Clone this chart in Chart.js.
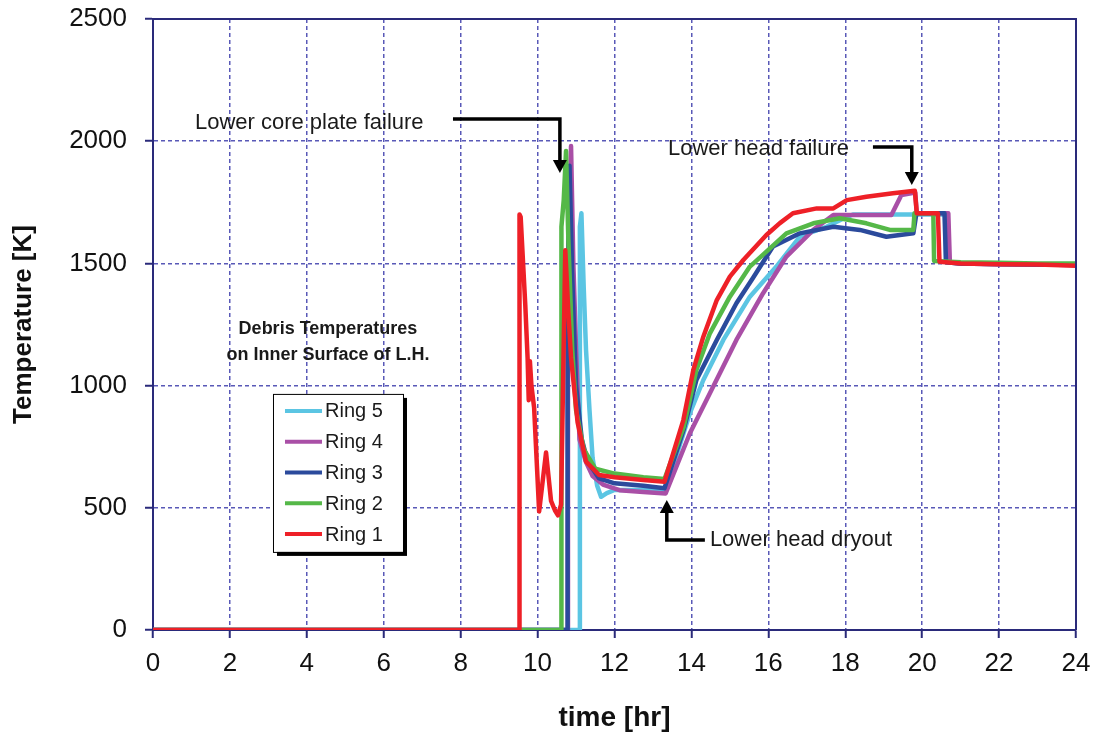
<!DOCTYPE html>
<html>
<head>
<meta charset="utf-8">
<script src="https://cdn.jsdelivr.net/npm/chart.js@4/dist/chart.umd.min.js"></script>
<style>
html,body{margin:0;padding:0;background:#fff;}
canvas{display:block;}
</style>
</head>
<body>
<canvas id="c" width="1097" height="742"></canvas>
<script>
// ---- Data (time in hr, temperature in K) ----
const ring1Time = [0, 9.52, 9.53, 9.56, 9.61, 9.68, 9.74, 9.77, 9.80, 9.84, 9.91, 10.04, 10.22, 10.35, 10.45, 10.53, 10.61, 10.72, 10.80, 10.87, 11.04, 11.26, 11.6, 12.0, 12.75, 13.3, 13.79, 14.05, 14.31, 14.66, 15.0, 15.35, 15.95, 16.3, 16.64, 17.26, 17.69, 18.04, 18.55, 19.24, 19.81, 19.86, 20.41, 20.45, 21, 22, 23, 24];
const ring1Temp = [0, 0, 1700, 1690, 1540, 1330, 1114, 940, 1100, 1000, 909, 485, 726, 528, 490, 469, 513, 1554, 1300, 1114, 850, 689, 634, 625, 614, 607, 859, 1064, 1200, 1350, 1446, 1514, 1616, 1665, 1705, 1725, 1725, 1759, 1773, 1787, 1797, 1705, 1705, 1507, 1500, 1497, 1495, 1490];

const ring2Time = [0, 10.61, 10.62, 10.68, 10.74, 10.8, 10.9, 11.0, 11.2, 11.5, 12.0, 12.75, 13.3, 13.8, 14.13, 14.48, 15.0, 15.52, 15.95, 16.47, 17.17, 17.86, 18.55, 19.16, 19.77, 19.8, 20.29, 20.31, 21, 22, 23, 24];
const ring2Temp = [0, 0, 1650, 1760, 1960, 1600, 1150, 900, 740, 660, 640, 625, 618, 832, 1064, 1214, 1364, 1487, 1548, 1623, 1664, 1685, 1664, 1637, 1637, 1705, 1705, 1510, 1505, 1503, 1500, 1500];

const ring3Time = [0, 10.77, 10.78, 10.83, 10.9, 11.0, 11.15, 11.3, 11.6, 12.0, 12.75, 13.3, 13.8, 14.13, 14.66, 15.17, 15.6, 16.12, 16.82, 17.69, 18.38, 19.07, 19.77, 19.85, 20.58, 20.62, 21, 22, 23, 24];
const ring3Temp = [0, 0, 1300, 1900, 1450, 1000, 780, 690, 620, 600, 590, 580, 820, 1023, 1187, 1337, 1440, 1569, 1623, 1650, 1637, 1609, 1623, 1705, 1705, 1505, 1500, 1498, 1496, 1495];

const ring4Time = [0, 10.78, 10.79, 10.87, 10.93, 11.0, 11.09, 11.25, 11.43, 11.7, 12.13, 12.75, 13.33, 13.96, 14.48, 15.17, 15.86, 16.47, 17.17, 17.69, 19.2, 19.46, 19.82, 19.86, 20.68, 20.72, 21, 22, 23, 24];
const ring4Temp = [0, 0, 1500, 1980, 1500, 1150, 780, 690, 630, 595, 572, 565, 559, 805, 969, 1187, 1377, 1528, 1637, 1698, 1698, 1780, 1790, 1705, 1705, 1505, 1500, 1497, 1495, 1493];

const ring5Time = [0, 11.09, 11.10, 11.14, 11.2, 11.26, 11.35, 11.43, 11.55, 11.65, 11.8, 12.0, 12.75, 13.33, 13.96, 14.31, 14.83, 15.52, 16.21, 16.82, 17.51, 17.9, 18.2, 19.8, 20.6, 20.62, 21, 22, 23, 24];
const ring5Temp = [0, 0, 1650, 1705, 1400, 1144, 900, 704, 590, 545, 560, 573, 573, 575, 887, 1023, 1187, 1364, 1487, 1609, 1650, 1680, 1700, 1700, 1700, 1505, 1500, 1497, 1495, 1493];

const ringNames = ['Ring 1', 'Ring 2', 'Ring 3', 'Ring 4', 'Ring 5'];
const ringColors = ['#ee2027', '#55b848', '#2b4a9c', '#a94fa6', '#5bc5e3'];
const xTickStep = 2, xMin = 0, xMax = 24;
const yTickStep = 500, yMin = 0, yMax = 2500;

const FONT = "'Liberation Sans', Arial, sans-serif";
const AXIS = '#2a2a7a';
const GRID = 'rgba(60,60,170,0.85)';

function pts(t, v){ return t.map((x,i)=>({x:x, y:v[i]})); }
const series = [[ring1Time, ring1Temp],[ring2Time, ring2Temp],[ring3Time, ring3Temp],[ring4Time, ring4Temp],[ring5Time, ring5Temp]];

const datasets = series.map((s,i)=>({
  label: ringNames[i],
  data: pts(s[0], s[1]),
  borderColor: ringColors[i],
  backgroundColor: ringColors[i],
  borderWidth: 4.5,
  pointRadius: 0,
  tension: 0,
  fill: false,
  borderJoinStyle: 'round',
  borderCapStyle: 'round'
}));

// annotation layout (data coordinates)
const annotations = {
  corePlate: {text: 'Lower core plate failure', tx: 1.09, ty: 2074, path: [[7.8, 2091],[10.58, 2091],[10.58, 1870]]},
  headFail: {text: 'Lower head failure', tx: 13.39, ty: 1968, path: [[18.72, 1976],[19.73, 1976],[19.73, 1821]]},
  dryout: {text: 'Lower head dryout', tx: 14.48, ty: 368, path: [[14.35, 368],[13.36, 368],[13.36, 532]]},
  caption: {lines: ['Debris Temperatures', 'on Inner Surface of L.H.'], cx: 4.55, y1: 1232, y2: 1125},
  legend: {x: 3.12, y: 966}
};

function drawArrow(ctx, p){
  ctx.save();
  ctx.strokeStyle = '#000'; ctx.fillStyle = '#000';
  ctx.lineWidth = 3.5; ctx.lineJoin = 'miter';
  const n = p.length;
  const [ex, ey] = p[n-1];
  const [px, py] = p[n-2];
  const ang = Math.atan2(ey-py, ex-px);
  const hl = 13, hw = 7;
  const bx = ex - Math.cos(ang)*hl, by = ey - Math.sin(ang)*hl;
  ctx.beginPath();
  ctx.moveTo(p[0][0], p[0][1]);
  for (let i=1;i<n-1;i++) ctx.lineTo(p[i][0], p[i][1]);
  ctx.lineTo(bx, by);
  ctx.stroke();
  ctx.beginPath();
  ctx.moveTo(ex, ey);
  ctx.lineTo(bx - Math.sin(ang)*hw, by + Math.cos(ang)*hw);
  ctx.lineTo(bx + Math.sin(ang)*hw, by - Math.cos(ang)*hw);
  ctx.closePath();
  ctx.fill();
  ctx.restore();
}

const overlay = {
  id: 'overlay',
  afterDatasetsDraw(chart){
    const {ctx, chartArea: a, scales: {x, y}} = chart;
    // frame top & right
    ctx.save();
    ctx.strokeStyle = AXIS; ctx.lineWidth = 2;
    ctx.beginPath();
    ctx.moveTo(a.left, a.top); ctx.lineTo(a.right, a.top); ctx.lineTo(a.right, a.bottom);
    ctx.stroke();
    ctx.restore();

    const P = (d)=>[x.getPixelForValue(d[0]), y.getPixelForValue(d[1])];

    ctx.save();
    ctx.fillStyle = '#1a1a1a';
    ctx.textBaseline = 'middle';
    ctx.textAlign = 'left';
    ctx.font = '22px ' + FONT;
    ['corePlate','headFail','dryout'].forEach(k=>{
      const an = annotations[k];
      const [tx, ty] = P([an.tx, an.ty]);
      ctx.fillText(an.text, tx, ty);
      drawArrow(ctx, an.path.map(P));
    });

    // caption
    const c = annotations.caption;
    ctx.font = 'bold 18px ' + FONT;
    ctx.textAlign = 'center';
    ctx.fillText(c.lines[0], x.getPixelForValue(c.cx), y.getPixelForValue(c.y1));
    ctx.fillText(c.lines[1], x.getPixelForValue(c.cx), y.getPixelForValue(c.y2));

    // legend box
    const [lx, ly] = P([annotations.legend.x, annotations.legend.y]);
    const lw = 130, lh = 158;
    ctx.fillStyle = '#000';
    ctx.fillRect(lx + 4, ly + 4, lw, lh);
    ctx.fillStyle = '#fff';
    ctx.fillRect(lx, ly, lw, lh);
    ctx.strokeStyle = '#000'; ctx.lineWidth = 1;
    ctx.strokeRect(lx + 0.5, ly + 0.5, lw, lh);
    ctx.font = '20px ' + FONT;
    ctx.textAlign = 'left';
    const order = [4,3,2,1,0];
    order.forEach((di, j)=>{
      const yy = ly + 17 + j * 30.8;
      ctx.strokeStyle = ringColors[di];
      ctx.lineWidth = 4;
      ctx.beginPath(); ctx.moveTo(lx + 12, yy); ctx.lineTo(lx + 49, yy); ctx.stroke();
      ctx.fillStyle = '#1a1a1a';
      ctx.fillText(ringNames[di], lx + 52, yy + 1);
    });
    ctx.restore();
  }
};

new Chart(document.getElementById('c'), {
  type: 'line',
  data: { datasets },
  options: {
    responsive: false,
    animation: false,
    layout: { padding: { top: 19, right: 21, left: 0, bottom: 0 } },
    plugins: { legend: { display: false }, tooltip: { enabled: false } },
    scales: {
      x: {
        type: 'linear', min: xMin, max: xMax,
        ticks: { stepSize: xTickStep, font: { size: 26, family: FONT }, color: '#111', padding: 10, maxRotation: 0, callback: v => String(v) },
        grid: { color: GRID, lineWidth: 1.5, tickLength: 8, tickColor: AXIS, tickWidth: 2 },
        border: { color: AXIS, width: 2, dash: [4, 3] },
        title: { display: true, text: 'time [hr]', color: '#111', font: { size: 28, weight: 'bold', family: FONT }, padding: { top: 0, bottom: 7 } },
        afterFit(s){ s.height = 112; s.paddingLeft = 0; s.paddingRight = 0; }
      },
      y: {
        min: yMin, max: yMax,
        ticks: { stepSize: yTickStep, font: { size: 26, family: FONT }, color: '#111', padding: 18, callback: v => String(v) },
        grid: { color: GRID, lineWidth: 1.5, tickLength: 8, tickColor: AXIS, tickWidth: 2 },
        border: { color: AXIS, width: 2, dash: [4, 3] },
        title: { display: true, text: 'Temperature [K]', color: '#111', font: { size: 26, weight: 'bold', family: FONT }, padding: { top: 8, bottom: 0 } },
        afterFit(s){ s.width = 153; s.paddingTop = 0; s.paddingBottom = 0; }
      }
    }
  },
  plugins: [overlay]
});
</script>
</body>
</html>
